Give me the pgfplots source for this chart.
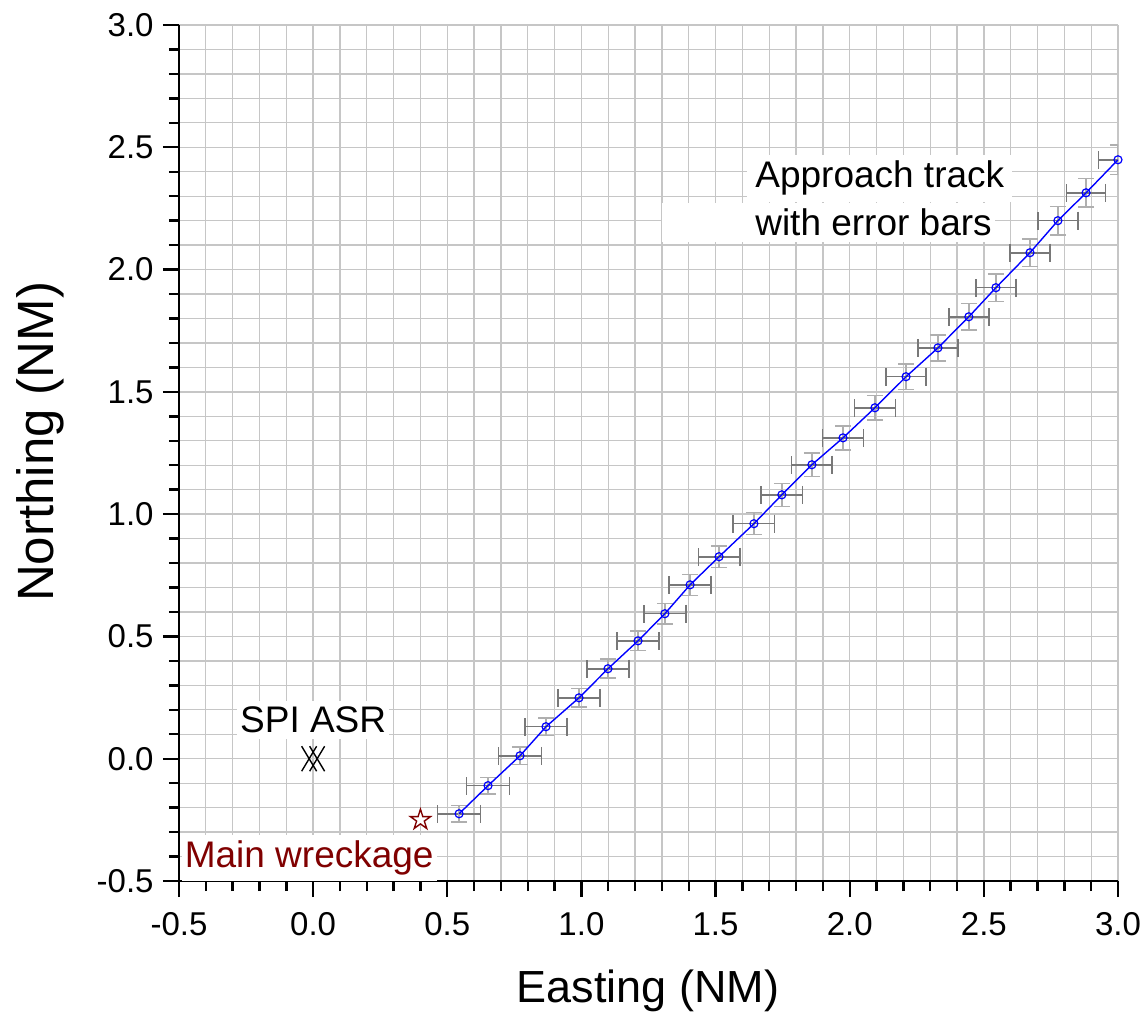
\documentclass[border=0pt]{standalone}
\usepackage{pgfplots}
\pgfplotsset{compat=1.18}
\usepackage{pgfplotstable}
\usepackage{fontspec}
\setmainfont{Liberation Sans}
\definecolor{gridgray}{RGB}{198,198,198}
\definecolor{errx}{RGB}{120,120,120}
\definecolor{erry}{RGB}{175,175,175}
\definecolor{wreck}{RGB}{128,0,0}

% outline five-point star
\pgfdeclareplotmark{ostar}{%
  \pgfpathmoveto{\pgfpointpolar{90}{\pgfplotmarksize}}%
  \pgfpathlineto{\pgfpointpolar{126}{0.382\pgfplotmarksize}}%
  \pgfpathlineto{\pgfpointpolar{162}{\pgfplotmarksize}}%
  \pgfpathlineto{\pgfpointpolar{198}{0.382\pgfplotmarksize}}%
  \pgfpathlineto{\pgfpointpolar{234}{\pgfplotmarksize}}%
  \pgfpathlineto{\pgfpointpolar{270}{0.382\pgfplotmarksize}}%
  \pgfpathlineto{\pgfpointpolar{306}{\pgfplotmarksize}}%
  \pgfpathlineto{\pgfpointpolar{342}{0.382\pgfplotmarksize}}%
  \pgfpathlineto{\pgfpointpolar{18}{\pgfplotmarksize}}%
  \pgfpathlineto{\pgfpointpolar{54}{0.382\pgfplotmarksize}}%
  \pgfpathclose
  \pgfusepathqfillstroke}

% two overlapping crosses (SPI marker)
\pgfdeclareplotmark{dblx}{%
  \pgfpathmoveto{\pgfpoint{-0.92\pgfplotmarksize}{-\pgfplotmarksize}}%
  \pgfpathlineto{\pgfpoint{0.28\pgfplotmarksize}{\pgfplotmarksize}}%
  \pgfpathmoveto{\pgfpoint{-0.92\pgfplotmarksize}{\pgfplotmarksize}}%
  \pgfpathlineto{\pgfpoint{0.28\pgfplotmarksize}{-\pgfplotmarksize}}%
  \pgfpathmoveto{\pgfpoint{-0.28\pgfplotmarksize}{-\pgfplotmarksize}}%
  \pgfpathlineto{\pgfpoint{0.92\pgfplotmarksize}{\pgfplotmarksize}}%
  \pgfpathmoveto{\pgfpoint{-0.28\pgfplotmarksize}{\pgfplotmarksize}}%
  \pgfpathlineto{\pgfpoint{0.92\pgfplotmarksize}{-\pgfplotmarksize}}%
  \pgfusepathqstroke}

\pgfplotstableread{
x      y       ex     ey
0.544  -0.225  0.080  0.033
0.652  -0.110  0.080  0.034
0.771   0.012  0.080  0.035
0.868   0.131  0.079  0.036
0.991   0.249  0.079  0.038
1.099   0.368  0.079  0.039
1.211   0.482  0.078  0.040
1.311   0.593  0.078  0.042
1.405   0.711  0.078  0.043
1.513   0.826  0.077  0.044
1.643   0.961  0.077  0.045
1.747   1.079  0.077  0.047
1.859   1.202  0.076  0.048
1.975   1.312  0.076  0.049
2.094   1.435  0.076  0.050
2.210   1.562  0.075  0.052
2.329   1.680  0.075  0.053
2.444   1.807  0.075  0.054
2.545   1.926  0.074  0.056
2.672   2.069  0.074  0.057
2.776   2.200  0.074  0.058
2.881   2.314  0.073  0.059
3.000   2.449  0.073  0.061
}\track

\begin{document}
\begin{tikzpicture}
\begin{axis}[
    scale only axis,
    width=469.5pt, height=428pt,
    xmin=-0.5, xmax=3.0, ymin=-0.5, ymax=3.0,
    xtick={-0.5,0,...,3.0}, ytick={-0.5,0,...,3.0},
    minor tick num=4,
    axis lines=left,
    axis line style={-, black, line width=1.2pt},
    tick align=outside,
    major tick length=8pt, minor tick length=5pt,
    every tick/.style={black, line width=1.2pt},
    grid=both,
    major grid style={gridgray, line width=0.65pt},
    minor grid style={gridgray, line width=0.65pt},
    /pgf/number format/assume math mode=true,
    /pgf/number format/.cd, fixed, fixed zerofill, precision=1, /pgfplots/.cd,
    ticklabel style={font=\fontsize{16.5}{19}\selectfont, inner sep=0pt},
    xticklabel style={anchor=base, yshift=-19pt},
    yticklabel style={anchor=east, xshift=-4.5pt},
    xlabel={Easting (NM)},
    ylabel={Northing (NM)},
    xlabel style={font=\fontsize{22.5}{26}\selectfont, at={(axis description cs:0.4995,-0.1414)}, anchor=base, inner sep=0pt},
    ylabel style={font=\fontsize{25.5}{28}\selectfont, at={(axis description cs:-0.134,0.513)}, anchor=base, rotate=0, inner sep=0pt},
]
% horizontal error bars
\addplot[draw=none, mark=none, forget plot,
    error bars/.cd, x dir=both, x explicit,
    error bar style={errx, line width=0.8pt},
    error mark options={errx, line width=0.8pt, mark size=4.5pt, rotate=90}]
    table[x=x, y=y, x error=ex] {\track};
% vertical error bars
\addplot[draw=none, mark=none, forget plot,
    error bars/.cd, y dir=both, y explicit,
    error bar style={erry, line width=0.8pt},
    error mark options={erry, line width=0.8pt, mark size=4pt, rotate=90}]
    table[x=x, y=y, y error=ey] {\track};
% approach track
\addplot[blue, line width=0.7pt, mark=o, mark size=2pt,
    mark options={fill=white, draw=blue, line width=0.6pt}]
    table[x=x, y=y] {\track};
% SPI ASR
\addplot[only marks, mark=dblx, mark size=6.25pt,
    mark options={black, line width=0.7pt}]
    coordinates {(0,0)};
% main wreckage
\addplot[only marks, mark=ostar, mark size=5.3pt,
    mark options={wreck, fill=white, line width=0.7pt}]
    coordinates {(0.4,-0.25)};

\node[fill=white, anchor=base west, inner xsep=4pt, inner ysep=3pt,
    font=\fontsize{18.5}{22}\selectfont] at (axis cs:1.617,2.334) {Approach track};
\node[fill=white, anchor=base west, inner xsep=1.5pt, inner ysep=3pt,
    font=\fontsize{18.5}{22}\selectfont] at (axis cs:1.300,2.138) {\hspace*{45pt}with error bars};
\node[fill=white, anchor=base, inner xsep=1.5pt, inner ysep=3pt,
    font=\fontsize{18.5}{22}\selectfont] at (axis cs:0,0.106) {SPI ASR};
\node[fill=white, anchor=base west, inner xsep=1.5pt, inner ysep=3pt, text=wreck,
    font=\fontsize{18.5}{22}\selectfont] at (axis cs:-0.491,-0.446) {Main wreckage};
\end{axis}
\pgfresetboundingbox
\path (-89.5pt,-72pt) rectangle (483.5pt,440.5pt);
\end{tikzpicture}
\end{document}
